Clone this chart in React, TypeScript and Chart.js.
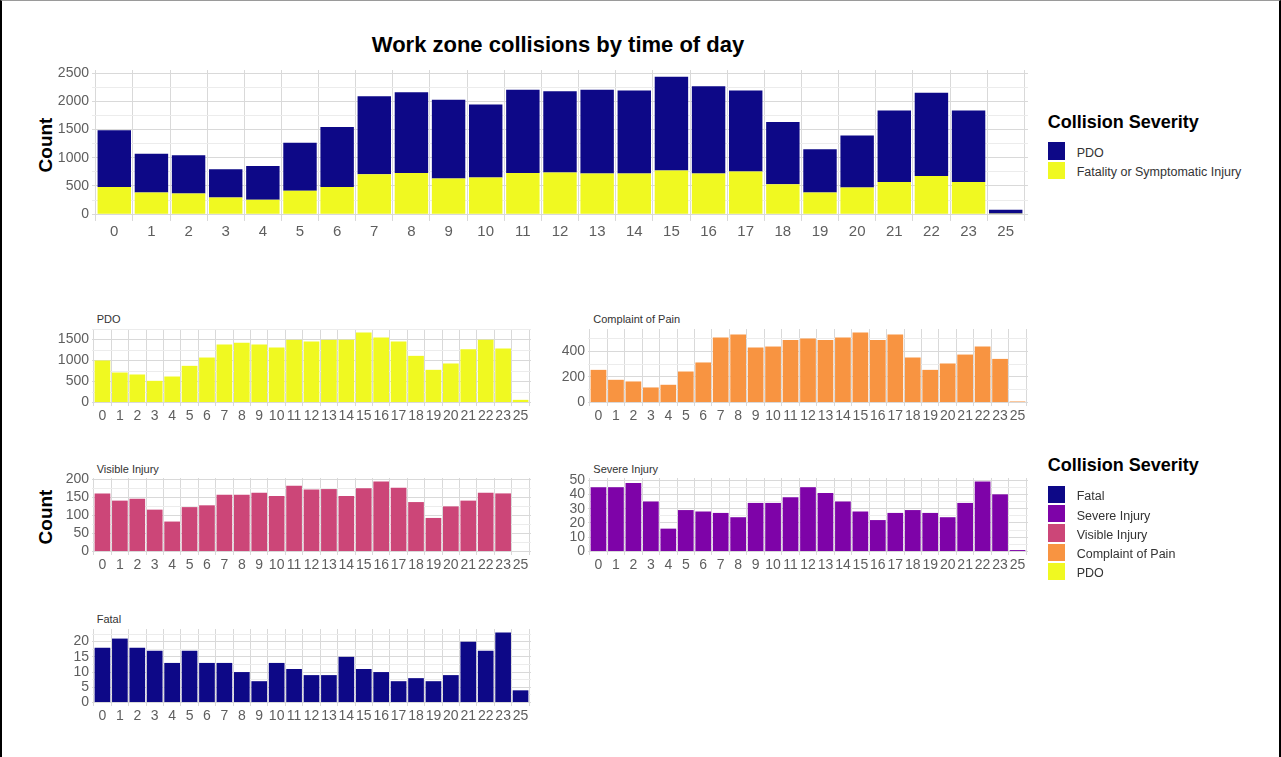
import React, { useEffect, useRef } from "react";
import { Chart, registerables } from "chart.js";

Chart.register(...registerables);

// ---------- data ----------
const hourLabels = ["0","1","2","3","4","5","6","7","8","9","10","11","12","13","14","15","16","17","18","19","20","21","22","23","25"];

// top stacked chart
const topInjury = [483,383,366,295,254,413,483,708,731,631,649,731,737,719,719,772,719,755,531,383,472,572,678,572,13];
const topPdo = [1003,690,678,501,601,855,1062,1385,1433,1397,1297,1474,1445,1486,1474,1663,1551,1438,1102,767,925,1268,1474,1268,64];

// small multiples
const pdoCounts = [1000,714,667,516,619,873,1071,1381,1421,1381,1310,1492,1452,1492,1492,1667,1548,1452,1111,778,929,1270,1492,1286,63];
const painCounts = [256,178,165,118,139,243,314,510,533,431,439,491,502,491,510,549,491,533,353,256,306,376,439,342,8];
const visibleCounts = [161,141,146,116,83,123,128,157,157,163,154,182,172,173,154,175,194,177,137,93,125,141,163,161,0];
const severeCounts = [45,45,48,35,16,29,28,27,24,34,34,38,45,41,35,28,22,27,29,27,24,34,49,40,1];
const fatalCounts = [18,21,18,17,13,17,13,13,10,7,13,11,9,9,15,11,10,7,8,7,9,20,17,23,4];

// y tick labels
const topTicks = [0, 500, 1000, 1500, 2000, 2500];
const pdoTicks = [0, 500, 1000, 1500];
const painTicks = [0, 200, 400];
const visibleTicks = [0, 50, 100, 150, 200];
const severeTicks = [0, 10, 20, 30, 40, 50];
const fatalTicks = [0, 5, 10, 15, 20];

// ---------- styles ----------
const FONT = "'Liberation Sans', Arial, Helvetica, sans-serif";
const C_FATAL = "#0D0887";
const C_SEVERE = "#7E03A8";
const C_VISIBLE = "#CC4678";
const C_PAIN = "#F89441";
const C_PDO = "#F0F921";
const GRID_MAJOR = "#d9d9d9";
const GRID_MINOR = "#ececec";
const TICK_COLOR = "#5e5e5e";

Chart.defaults.font.family = FONT;

type Box = { left: number; top: number; width: number; height: number };
type DS = { data: number[]; color: string };

const AXIS_W = 60;
const AXIS_H = 30;
const PAD_T = 16;
const PAD_R = 14;

function BarPanel({ box, series, majors, xFont, yFont, stacked }: { box: Box; series: DS[]; majors: number[]; xFont: number; yFont: number; stacked?: boolean }) {
  const ref = useRef<HTMLCanvasElement | null>(null);
  const cw = AXIS_W + box.width + PAD_R;
  const ch = PAD_T + box.height + AXIS_H;

  useEffect(() => {
    if (!ref.current) return;
    const totals = hourLabels.map((_, i) =>
      stacked ? series.reduce((s, d) => s + d.data[i], 0) : Math.max(...series.map((d) => d.data[i]))
    );
    const maxV = Math.max(...totals);
    const yMin = -0.05 * maxV;
    const yMax = 1.05 * maxV;
    const step = majors[1] - majors[0];
    const minors: number[] = [];
    for (let v = step / 2; v <= yMax; v += step) minors.push(v);
    const allY = [...majors, ...minors].sort((a, b) => a - b);
    const isMajor = (v: number) => majors.includes(v);

    const chart = new Chart(ref.current, {
      type: "bar",
      data: {
        datasets: series.map((s) => ({
          data: s.data.map((y, i) => ({ x: i, y })),
          backgroundColor: s.color,
          borderWidth: 0,
          categoryPercentage: 0.9,
          barPercentage: 1.0,
        })),
      },
      options: {
        responsive: false,
        animation: false,
        devicePixelRatio: 1,
        layout: { padding: { top: PAD_T, right: PAD_R, left: 0, bottom: 0 } },
        plugins: { legend: { display: false }, tooltip: { enabled: false }, title: { display: false } },
        scales: {
          x: {
            type: "linear",
            stacked: !!stacked,
            min: -0.6,
            max: hourLabels.length - 1 + 0.6,
            offset: false,
            afterBuildTicks: (scale: any) => {
              scale.ticks = hourLabels.map((_, i) => ({ value: i }));
            },
            afterFit: (scale: any) => {
              scale.height = AXIS_H;
            },
            ticks: {
              autoSkip: false,
              maxRotation: 0,
              minRotation: 0,
              padding: 2,
              color: TICK_COLOR,
              font: { size: xFont },
              callback: (_v: any, i: number) => hourLabels[i],
            },
            grid: { color: GRID_MAJOR, drawTicks: false, lineWidth: 1 },
            border: { display: false },
          },
          y: {
            type: "linear",
            stacked: !!stacked,
            min: yMin,
            max: yMax,
            afterBuildTicks: (scale: any) => {
              scale.ticks = allY.map((v) => ({ value: v }));
            },
            afterFit: (scale: any) => {
              scale.width = AXIS_W;
            },
            ticks: {
              autoSkip: false,
              padding: 3,
              color: TICK_COLOR,
              font: { size: yFont },
              callback: (v: any) => (isMajor(v) ? String(v) : ""),
            },
            grid: {
              drawTicks: false,
              lineWidth: 1,
              color: (ctx: any) => (ctx.tick && isMajor(ctx.tick.value) ? GRID_MAJOR : GRID_MINOR),
            },
            border: { display: false },
          },
        },
      } as any,
    });
    return () => chart.destroy();
  }, []);

  return (
    <canvas
      ref={ref}
      width={cw}
      height={ch}
      style={{ position: "absolute", left: box.left - AXIS_W, top: box.top - PAD_T, width: cw, height: ch }}
    />
  );
}

function Txt({ x, baseline, size, bold, color, align, children }: { x: number; baseline: number; size: number; bold?: boolean; color?: string; align?: "left" | "center"; children: React.ReactNode }) {
  return (
    <div
      style={{
        position: "absolute",
        left: x,
        top: baseline - 0.8465 * size,
        fontFamily: FONT,
        fontSize: size,
        lineHeight: `${size}px`,
        fontWeight: bold ? "bold" : "normal",
        color: color || "#000",
        whiteSpace: "nowrap",
        transform: align === "center" ? "translateX(-50%)" : undefined,
      }}
    >
      {children}
    </div>
  );
}

function VText({ cx, cy, size, children }: { cx: number; cy: number; size: number; children: React.ReactNode }) {
  return (
    <div
      style={{
        position: "absolute",
        left: cx,
        top: cy,
        fontFamily: FONT,
        fontSize: size,
        lineHeight: `${size}px`,
        fontWeight: "bold",
        color: "#000",
        whiteSpace: "nowrap",
        transform: "translate(-50%, -50%) rotate(-90deg)",
      }}
    >
      {children}
    </div>
  );
}

function Legend({ left, titleBaseline, firstTop, step, items }: { left: number; titleBaseline: number; firstTop: number; step: number; items: { label: string; color: string }[] }) {
  return (
    <>
      <Txt x={left} baseline={titleBaseline} size={18} bold>
        Collision Severity
      </Txt>
      {items.map((it, i) => (
        <React.Fragment key={it.label}>
          <div
            style={{
              position: "absolute",
              left: left,
              top: firstTop + i * step,
              width: 17.3,
              height: 17.3,
              background: it.color,
            }}
          />
          <Txt x={left + 29} baseline={firstTop + i * step + 15} size={12.5} color="#333">
            {it.label}
          </Txt>
        </React.Fragment>
      ))}
    </>
  );
}

export default function App() {
  return (
    <div
      style={{
        position: "absolute",
        left: 0,
        top: 0,
        width: 1281,
        height: 780,
        boxSizing: "border-box",
        background: "#fff",
        borderLeft: "2px solid #000",
        borderRight: "2px solid #000",
        borderTop: "1px solid #9a9a9a",
        overflow: "hidden",
      }}
    >
      <div style={{ position: "absolute", left: -2, top: -1, width: 1281, height: 780 }}>
        <Txt x={558} baseline={53} size={22} bold align="center">
          Work zone collisions by time of day
        </Txt>
        <VText cx={44.5} cy={145} size={19}>Count</VText>
        <BarPanel
          box={{ left: 92, top: 70, width: 936, height: 151 }}
          series={[
            { data: topInjury, color: C_PDO },
            { data: topPdo, color: C_FATAL },
          ]}
          majors={topTicks}
          xFont={15}
          yFont={14}
          stacked
        />
        <Legend
          left={1047.7}
          titleBaseline={127.9}
          firstTop={142.3}
          step={19.4}
          items={[
            { label: "PDO", color: C_FATAL },
            { label: "Fatality or Symptomatic Injury", color: C_PDO },
          ]}
        />

        <Txt x={96.7} baseline={323} size={11} color="#333">PDO</Txt>
        <BarPanel box={{ left: 92, top: 329, width: 439, height: 77 }} series={[{ data: pdoCounts, color: C_PDO }]} majors={pdoTicks} xFont={14} yFont={14} />

        <Txt x={593.3} baseline={323} size={11} color="#333">Complaint of Pain</Txt>
        <BarPanel box={{ left: 588, top: 329, width: 440, height: 77 }} series={[{ data: painCounts, color: C_PAIN }]} majors={painTicks} xFont={14} yFont={14} />

        <VText cx={44.5} cy={516.5} size={19}>Count</VText>
        <Txt x={96.7} baseline={473} size={11} color="#333">Visible Injury</Txt>
        <BarPanel box={{ left: 92, top: 478, width: 439, height: 77 }} series={[{ data: visibleCounts, color: C_VISIBLE }]} majors={visibleTicks} xFont={14} yFont={14} />

        <Txt x={593.3} baseline={473} size={11} color="#333">Severe Injury</Txt>
        <BarPanel box={{ left: 588, top: 478, width: 440, height: 77 }} series={[{ data: severeCounts, color: C_SEVERE }]} majors={severeTicks} xFont={14} yFont={14} />

        <Txt x={96.7} baseline={623} size={11} color="#333">Fatal</Txt>
        <BarPanel box={{ left: 92, top: 629, width: 439, height: 77 }} series={[{ data: fatalCounts, color: C_FATAL }]} majors={fatalTicks} xFont={14} yFont={14} />

        <Legend
          left={1047.7}
          titleBaseline={471.2}
          firstTop={486}
          step={19.2}
          items={[
            { label: "Fatal", color: C_FATAL },
            { label: "Severe Injury", color: C_SEVERE },
            { label: "Visible Injury", color: C_VISIBLE },
            { label: "Complaint of Pain", color: C_PAIN },
            { label: "PDO", color: C_PDO },
          ]}
        />
      </div>
    </div>
  );
}
